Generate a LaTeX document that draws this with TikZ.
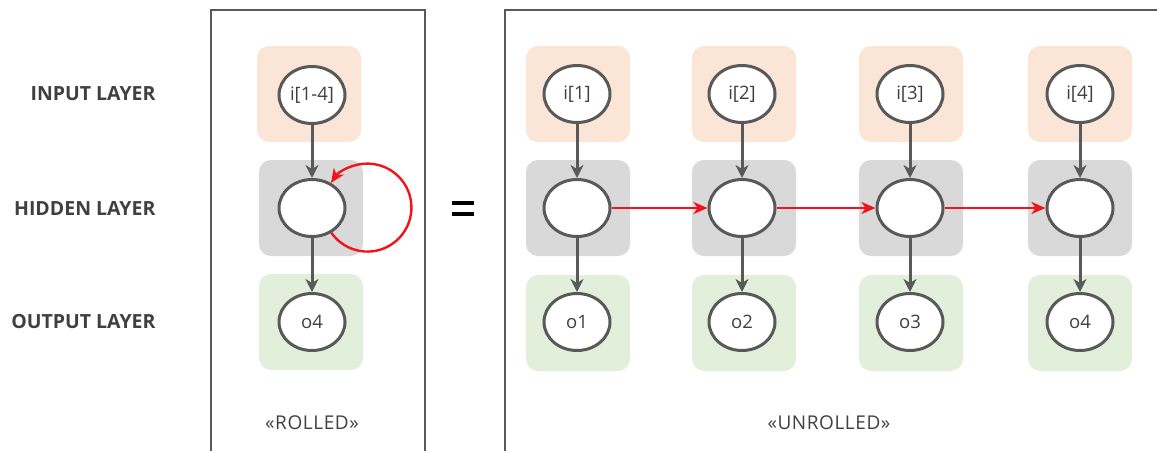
\documentclass[tikz,border=0pt]{standalone}
\usepackage{fontspec}
\setmainfont{Open Sans}
\usetikzlibrary{arrows.meta,shapes.geometric}
\definecolor{framegray}{HTML}{595959}
\definecolor{textgray}{HTML}{404040}
\definecolor{peach}{HTML}{FBE5D6}
\definecolor{lightgray}{HTML}{D9D9D9}
\definecolor{lightgreen}{HTML}{E2EFDA}
\definecolor{recred}{HTML}{F0141E}
\tikzset{
  frame/.style={draw=framegray, line width=2.6pt},
  panel/.style={rectangle, rounded corners=12pt, minimum width=104pt, minimum height=96pt, inner sep=0pt},
  bgin/.style={panel, fill=peach},
  bghid/.style={panel, fill=lightgray},
  bgout/.style={panel, fill=lightgreen},
  unit/.style={ellipse, draw=framegray, fill=white, line width=3pt, minimum width=66pt, minimum height=57pt, inner sep=0pt, text=textgray, font=\fontsize{18.5}{22}\selectfont},
  flow/.style={draw=framegray, line width=3pt, -{Stealth[length=13pt,width=13pt,inset=4pt]}},
  rec/.style={draw=recred, line width=2.4pt, -{Stealth[length=14pt,width=12pt,inset=4pt]}},
  layername/.style={anchor=east, text=textgray, font=\fontsize{19.5}{22}\selectfont\bfseries},
  caption/.style={text=textgray, font=\fontsize{19}{22}\selectfont\addfontfeature{LetterSpace=3}},
}
\begin{document}
\begin{tikzpicture}[x=1pt, y=-1pt]
  \useasboundingbox (0,0) rectangle (1157,450);
  \clip (0,0) rectangle (1157,450);

  % panel frames, open at the bottom and right
  \draw[frame] (211,470) -- (211,10) -- (425,10) -- (425,470);
  \draw[frame] (505,470) -- (505,10) -- (1180,10);

  % layer names
  \node[layername] (lin)  at (159,94)  {INPUT LAYER};
  \node[layername] (lhid) at (159,209) {HIDDEN LAYER};
  \node[layername] (lout) at (159,322) {OUTPUT LAYER};

  % rolled network
  \node[bgin]  (bi0) at (309,94)  {};
  \node[bghid] (bh0) at (311,208) {};
  \node[bgout] (bo0) at (311,322) {};
  \node[unit] (i0) at (312,95)  {i[1-4]};
  \node[unit] (h0) at (312,208) {};
  \node[unit] (o0) at (312,322) {o4};
  \draw[flow] (i0) -- (h0);
  \draw[flow] (h0) -- (o0);
  % recurrent loop: leaves lower right, re-enters upper right
  \draw[rec] (h0.-52) arc[start angle=145, end angle=-146, radius=44];
  \node[caption] (rolled) at (312,423) {«ROLLED»};

  % equality sign
  \draw[line width=4pt, black] (452,203) -- (474,203) (452,214) -- (474,214);

  % unrolled network
  \foreach \k/\x/\bx in {1/577/578, 2/742/744, 3/910/911, 4/1080/1080} {
    \node[bgin]  (bi\k) at (\bx,94)  {};
    \node[bghid] (bh\k) at (\bx,208) {};
    \node[bgout] (bo\k) at (\bx,323) {};
    \node[unit] (i\k) at (\x,94)  {i[\k]};
    \node[unit] (h\k) at (\x,208) {};
    \node[unit] (o\k) at (\x,322) {o\k};
    \draw[flow] (i\k) -- (h\k);
    \draw[flow] (h\k) -- (o\k);
  }
  \draw[rec] (h1) -- (h2);
  \draw[rec] (h2) -- (h3);
  \draw[rec] (h3) -- (h4);
  \node[caption] (unrolled) at (829,423) {«UNROLLED»};
\end{tikzpicture}
\end{document}
